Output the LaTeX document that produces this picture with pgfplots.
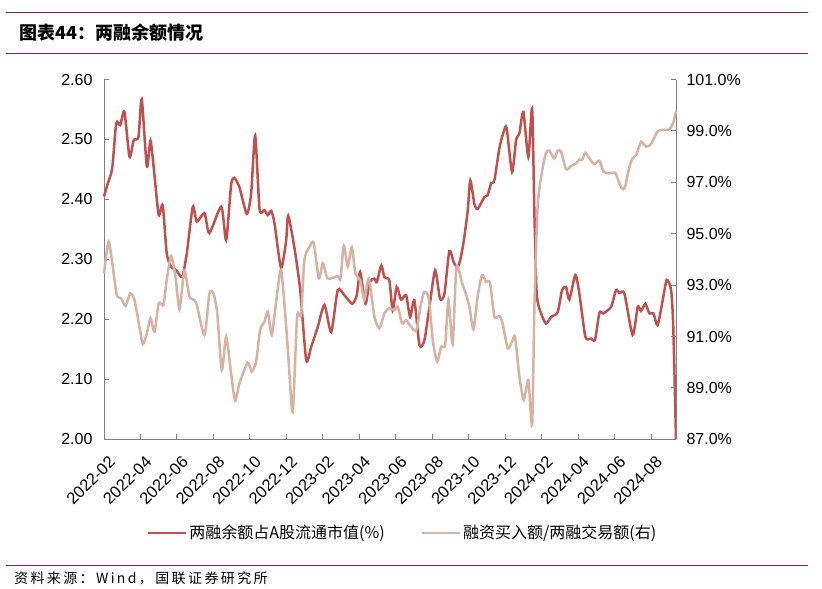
\documentclass[border=0pt]{standalone}
\usepackage{fontspec}
\setmainfont{Liberation Sans}
\newfontfamily\cjk{Noto Sans CJK SC}
\usepackage{pgfplots}
\pgfplotsset{compat=1.18}
\usepackage{pgfplotstable}

\definecolor{redline}{HTML}{C0504D}
\definecolor{tanline}{HTML}{D7B2A3}
\definecolor{rule}{HTML}{7F1F5F}
\definecolor{axisgray}{HTML}{808080}

\pgfplotstableread{
m v
0 2.405
0.21 2.427
0.45 2.452
0.67 2.527
0.89 2.524
1.12 2.546
1.40 2.471
1.63 2.499
1.89 2.504
2.07 2.567
2.35 2.455
2.55 2.498
2.77 2.44
3.00 2.374
3.22 2.39
3.44 2.31
3.68 2.288
3.96 2.282
4.29 2.271
4.54 2.31
4.87 2.388
5.09 2.363
5.51 2.377
5.78 2.344
6.43 2.388
6.70 2.332
6.97 2.424
7.15 2.436
7.43 2.42
7.83 2.376
8.07 2.41
8.29 2.507
8.53 2.384
8.80 2.382
8.98 2.374
9.17 2.381
9.35 2.36
9.71 2.286
9.99 2.332
10.10 2.373
10.44 2.32
10.76 2.249
11.09 2.132
11.36 2.154
11.72 2.187
12.09 2.224
12.46 2.179
12.82 2.249
13.19 2.24
13.61 2.226
13.86 2.24
14.05 2.279
14.34 2.226
14.56 2.262
14.83 2.268
14.96 2.262
15.21 2.29
15.38 2.27
15.65 2.265
15.83 2.215
16.05 2.254
16.29 2.233
16.57 2.24
16.79 2.204
17.02 2.232
17.30 2.157
17.57 2.165
17.85 2.221
18.16 2.282
18.43 2.234
18.67 2.243
18.94 2.314
19.18 2.295
19.40 2.287
19.58 2.305
19.76 2.337
19.95 2.382
20.09 2.432
20.31 2.393
20.49 2.384
20.86 2.404
21.04 2.407
21.23 2.427
21.41 2.432
21.68 2.485
21.92 2.513
22.08 2.519
22.38 2.446
22.60 2.499
22.78 2.51
23.00 2.546
23.27 2.471
23.48 2.552
23.60 2.382
23.73 2.243
23.97 2.21
24.24 2.193
24.52 2.204
24.88 2.212
25.12 2.249
25.34 2.254
25.52 2.233
25.85 2.274
26.07 2.243
26.40 2.171
26.71 2.168
26.93 2.166
27.17 2.211
27.38 2.21
27.81 2.221
28.08 2.249
28.26 2.244
28.54 2.243
28.99 2.174
29.27 2.221
29.45 2.214
29.69 2.226
29.91 2.21
30.13 2.21
30.36 2.19
30.64 2.232
30.86 2.266
31.10 2.249
31.22 2.187
31.37 2.00
}\balance

\pgfplotstableread{
m v
0 93.46
0.25 94.69
0.48 93.72
0.70 92.61
0.94 92.49
1.18 92.19
1.44 92.68
1.67 92.42
1.91 91.51
2.13 90.71
2.35 91.12
2.55 91.71
2.77 91.19
3.00 92.29
3.26 92.23
3.44 93.2
3.68 94.13
3.92 93.33
4.14 92.06
4.41 93.56
4.69 92.55
5.05 92.32
5.51 91.06
5.78 92.68
6.00 92.68
6.21 91.9
6.46 89.7
6.70 90.99
6.97 89.57
7.19 88.5
7.43 89.18
7.88 89.98
8.10 89.63
8.34 90.02
8.56 91.25
8.80 91.58
8.98 91.97
9.20 91.06
9.44 92.35
9.71 93.59
9.99 91.4
10.12 90.09
10.35 88.07
10.59 91.77
10.81 91.84
10.99 93.98
11.27 94.49
11.50 94.65
11.78 93.26
12.00 93.85
12.27 93.26
12.82 93.35
12.97 93.26
13.15 94.53
13.37 93.72
13.59 94.47
13.79 93.46
14.05 93.2
14.28 92.42
14.52 93.26
14.83 91.77
15.10 91.32
15.38 91.9
15.65 92.1
15.93 92.03
16.11 92.16
16.35 91.51
16.57 91.64
16.84 91.38
17.12 91.23
17.39 92.29
17.57 92.74
17.81 92.49
18.03 90.86
18.27 90.02
18.49 90.6
18.71 90.67
18.89 92.42
19.12 90.71
19.33 93.7
19.63 93.1
19.87 92.6
20.04 92.16
20.26 91.28
20.49 92.55
20.73 93.39
20.95 93.13
21.17 93.09
21.41 91.77
21.68 91.8
21.86 91.51
22.14 90.54
22.38 90.8
22.54 90.99
22.78 89.44
23.02 88.53
23.27 89.31
23.48 87.56
23.60 92.03
23.78 96.05
24.02 97.41
24.24 98.15
24.42 98.23
24.70 97.93
24.88 98.23
25.07 98.19
25.34 97.51
25.61 97.63
25.89 97.74
26.07 97.89
26.22 97.87
26.40 98.15
26.62 97.93
26.89 97.71
27.17 97.84
27.40 97.41
27.71 97.35
28.04 97.37
28.21 97.06
28.41 96.76
28.57 96.8
28.81 97.6
28.99 97.93
29.21 98.1
29.45 98.58
29.73 98.39
30.00 98.49
30.36 98.97
30.64 99.04
31.00 99.06
31.22 99.32
31.37 99.75
}\ratio

\pgfplotsset{
  common/.style={
    at={(104pt,-439.3pt)}, anchor=south west,
    scale only axis, width=572pt, height=359.8pt,
    xmin=0, xmax=31.37,
    font=\fontsize{16}{18}\selectfont,
    /pgf/number format/assume math mode=true,
    axis line style={axisgray, line width=0.9pt, -},
    major tick style={axisgray, line width=0.9pt},
    major tick length=5pt,
    tick align=inside,
    clip=false,
  },
  redstyle/.style={redline, line width=2.5pt, smooth, tension=0.4},
  tanstyle/.style={tanline, line width=2.5pt, smooth, tension=0.4},
}

\begin{document}
\begin{tikzpicture}
\useasboundingbox (0pt,0pt) rectangle (822pt,-589pt);

\draw[rule, line width=1pt] (6pt,-12pt) -- (808pt,-12pt);
\draw[rule, line width=1pt] (6pt,-53pt) -- (808pt,-53pt);
\draw[rule, line width=1pt] (6pt,-565pt) -- (808pt,-565pt);
\node[anchor=west, inner sep=0pt] at (19pt,-32.5pt) {\cjk\bfseries\fontsize{18}{18}\selectfont 图表44：两融余额情况};
\node[anchor=west, inner sep=0pt] at (14pt,-578pt) {\cjk\addfontfeature{LetterSpace=17}\fontsize{14}{14}\selectfont 资料来源：Wind，国联证券研究所};

\begin{axis}[common,
  ymin=2.0, ymax=2.6,
  ytick={2.0,2.1,2.2,2.3,2.4,2.5,2.6},
  yticklabel style={/pgf/number format/fixed, /pgf/number format/precision=2,
    /pgf/number format/fixed zerofill, xshift=-8pt},
  axis y line*=left, axis x line*=bottom,
  xtick={0,2,...,30},
  xticklabels={2022-02,2022-04,2022-06,2022-08,2022-10,2022-12,2023-02,2023-04,2023-06,2023-08,2023-10,2023-12,2024-02,2024-04,2024-06,2024-08},
  xticklabel style={xshift=4pt, yshift=-14pt, rotate=45, anchor=north east, inner sep=1pt,
    font=\fontsize{16.5}{18}\selectfont},
]
\addplot[redstyle] table[x=m, y=v] {\balance};
\end{axis}

\begin{axis}[common,
  ymin=87, ymax=101,
  ytick={87,89,91,93,95,97,99,101},
  yticklabel={\pgfmathprintnumber[fixed, precision=1, fixed zerofill]{\tick}\%},
  yticklabel style={xshift=7pt},
  axis y line*=right, axis x line=none,
  legend columns=2,
  legend style={at={(0.522,-0.26)}, anchor=center, draw=none, fill=none,
    font=\cjk\fontsize{16}{18}\selectfont,
    /tikz/every even column/.append style={column sep=34pt}},
  legend cell align=left,
  legend image code/.code={\draw[#1, sharp plot] (0pt,0pt) -- (38pt,0pt);},
]
\addlegendimage{redstyle}
\addlegendentry{两融余额占A股流通市值(\%)}
\addplot[tanstyle] table[x=m, y=v] {\ratio};
\addlegendentry{融资买入额/两融交易额(右)}
\end{axis}
\end{tikzpicture}
\end{document}
